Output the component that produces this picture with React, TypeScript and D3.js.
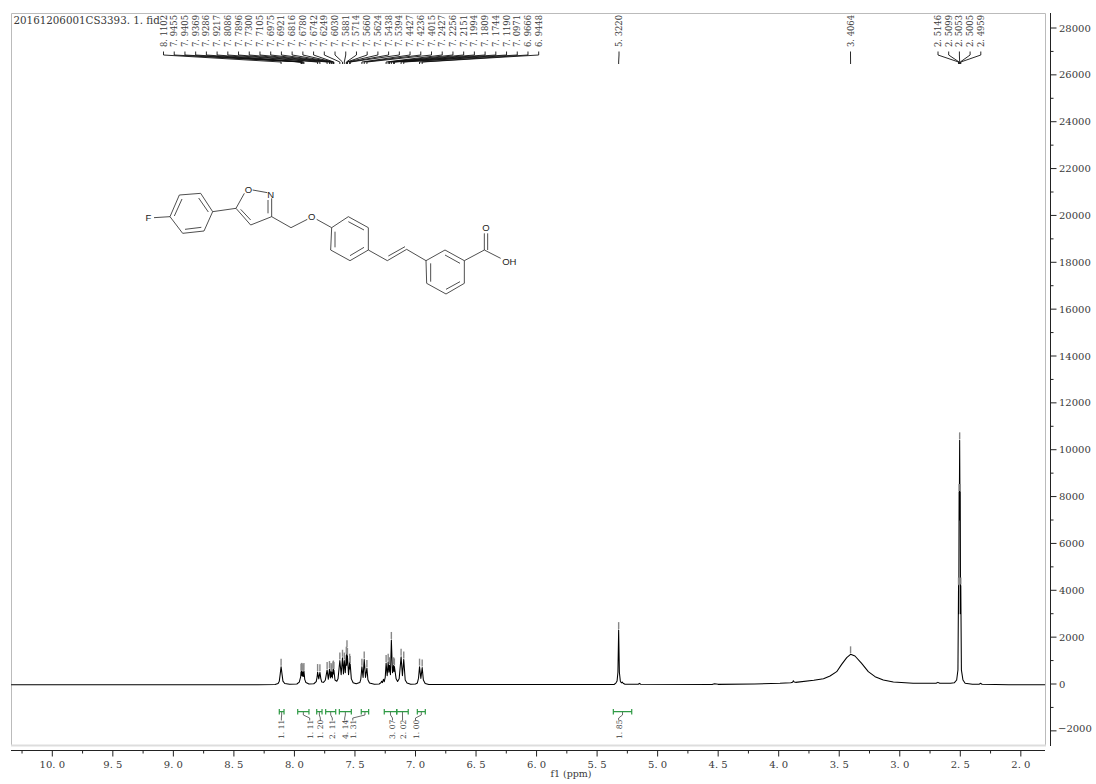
import React from "react";
import * as d3 from "d3";

const titleText = "20161206001CS3393. 1. fid";
const axisTitle = "f1 (ppm)";
const xTickValues = [10, 9.5, 9, 8.5, 8, 7.5, 7, 6.5, 6, 5.5, 5, 4.5, 4, 3.5, 3, 2.5, 2];
const xMinorValues = [10.25, 9.75, 9.25, 8.75, 8.25, 7.75, 7.25, 6.75, 6.25, 5.75, 5.25, 4.75, 4.25, 3.75, 3.25, 2.75, 2.25];
const yTickValues = [28000, 26000, 24000, 22000, 20000, 18000, 16000, 14000, 12000, 10000, 8000, 6000, 4000, 2000, 0, -2000];
const yMinorValues = [27000, 25000, 23000, 21000, 19000, 17000, 15000, 13000, 11000, 9000, 7000, 5000, 3000, 1000, -1000];

// Spectrum: [ppm, intensity]
const spectrum: [number, number][] = [
  [10.34, -30], [9.0, -30], [8.3, -30], [8.16, -25], [8.135, 20], [8.125, 120], [8.118, 400], [8.1102, 740], [8.102, 400], [8.095, 120], [8.08, 20],
  [8.04, -10], [7.98, 0], [7.96, 80], [7.9485, 300], [7.9455, 520], [7.943, 350], [7.9405, 560], [7.939, 400], [7.9369, 540], [7.933, 330], [7.9286, 500], [7.925, 320], [7.9217, 560], [7.915, 200], [7.905, 60],
  [7.88, 0], [7.84, 10], [7.82, 100], [7.8125, 300], [7.8086, 510], [7.799, 220], [7.7896, 500], [7.782, 230], [7.775, 90], [7.76, 70],
  [7.745, 160], [7.73, 600], [7.72, 200], [7.7105, 640], [7.703, 260], [7.6975, 560], [7.6945, 320], [7.6921, 500], [7.687, 260], [7.6816, 620], [7.68, 420], [7.678, 660], [7.676, 460], [7.6742, 600], [7.665, 170], [7.65, 120],
  [7.64, 220], [7.6249, 1000], [7.614, 400], [7.603, 1120], [7.595, 430], [7.5881, 1000], [7.58, 480], [7.5714, 1250], [7.5685, 800], [7.566, 1530], [7.564, 900], [7.5624, 1200], [7.553, 400], [7.5438, 950], [7.5415, 640], [7.5394, 850], [7.53, 220], [7.515, 50],
  [7.49, 10], [7.46, 60], [7.452, 200], [7.4427, 740], [7.433, 280], [7.4236, 1050], [7.413, 280], [7.4015, 680], [7.393, 180], [7.38, 40],
  [7.34, -10], [7.3, 0], [7.285, 60], [7.28, 120], [7.273, 60], [7.265, 200], [7.258, 100], [7.25, 280], [7.2427, 900], [7.234, 350], [7.2256, 950], [7.22, 500], [7.2151, 800], [7.207, 400], [7.1994, 1880], [7.19, 480], [7.1809, 800], [7.178, 520], [7.1744, 750], [7.16, 220], [7.148, 110],
  [7.135, 220], [7.119, 1165], [7.108, 350], [7.0971, 1050], [7.085, 170], [7.07, 40], [7.04, -10], [7.0, 0],
  [6.985, 40], [6.975, 250], [6.9666, 740], [6.9557, 240], [6.9448, 700], [6.935, 170], [6.92, 20], [6.89, -20], [6.7, -25], [6.0, -25], [5.5, -25],
  [5.36, -20], [5.345, 40], [5.335, 130], [5.328, 500], [5.322, 2300], [5.316, 500], [5.308, 120], [5.3, 50], [5.292, 80], [5.285, 30], [5.27, -10],
  [5.16, -10], [5.15, 30], [5.14, -10], [4.55, -20], [4.53, 10], [4.5, -15], [4.2, 0],
  [3.989, 30], [3.9, 55], [3.885, 80], [3.879, 140], [3.872, 85], [3.86, 70], [3.71, 157], [3.63, 228], [3.576, 341], [3.521, 526], [3.48, 839], [3.438, 1124], [3.4064, 1266], [3.37, 1195], [3.315, 882], [3.26, 526], [3.204, 313], [3.136, 171], [3.053, 85], [2.89, 29],
  [2.7, 29], [2.685, 70], [2.67, 29], [2.58, 30], [2.55, 50], [2.53, 170], [2.5195, 600], [2.5146, 4200], [2.5125, 3000], [2.5099, 8200], [2.5085, 7000], [2.5053, 10400], [2.502, 7000], [2.5005, 8200], [2.498, 3000], [2.4959, 4200], [2.491, 600], [2.478, 170], [2.46, 30],
  [2.4, -14], [2.345, -14], [2.335, 30], [2.32, -14], [2.1, -28], [1.8, -28],
];

const peakPpm = [8.1102, 7.9455, 7.9405, 7.9369, 7.9286, 7.9217, 7.8086, 7.7896, 7.73, 7.7105, 7.6975, 7.6921, 7.6816, 7.678, 7.6742, 7.6249, 7.603, 7.5881, 7.5714, 7.566, 7.5624, 7.5438, 7.5394, 7.4427, 7.4236, 7.4015, 7.2427, 7.2256, 7.2151, 7.1994, 7.1809, 7.1744, 7.119, 7.0971, 6.9666, 6.9448];
const peakHeights = [740, 520, 560, 540, 500, 560, 510, 500, 600, 640, 560, 500, 620, 660, 600, 1000, 1120, 1000, 1250, 1530, 1200, 950, 850, 740, 1050, 680, 900, 950, 800, 1880, 800, 750, 1165, 1050, 740, 700];
const soloPeakPpm = [5.322, 3.4064];
const soloPeakHeights = [2300, 1266];
const solventPpm = [2.5146, 2.5099, 2.5053, 2.5005, 2.4959];
const solventHeights = [4200, 8200, 10400, 8200, 4200];

const integralStart = [8.125, 7.973, 7.816, 7.742, 7.629, 7.448, 7.258, 7.155, 6.985, 5.366];
const integralEnd = [8.086, 7.88, 7.772, 7.659, 7.53, 7.387, 7.155, 7.06, 6.919, 5.214];
const integralLabels = ["1.11", "1.11", "1.20", "2.11", "4.14", "1.31", "3.07", "2.02", "1.00", "1.85"];
const integralLabelPpm = [8.108, 7.874, 7.786, 7.687, 7.585, 7.518, 7.19, 7.107, 7.0, 5.322];

// Structure inset: bond ends in crop units, atom labels beside
const bonds: number[][] = [
  [72, 143, 120, 140], [120, 140, 148, 75], [148, 75, 212, 70], [212, 70, 248, 125], [248, 125, 222, 183], [222, 183, 158, 190], [158, 190, 120, 140],
  [133, 138, 156, 87], [206, 84, 235, 126], [214, 172, 165, 178],
  [248, 125, 318, 115], [318, 115, 343, 70], [368, 60, 412, 68], [425, 85, 425, 140], [414, 90, 414, 130], [425, 140, 362, 165], [362, 165, 318, 115], [362, 150, 332, 118],
  [425, 140, 483, 173], [483, 173, 532, 148], [560, 148, 605, 173],
  [605, 173, 655, 140], [655, 140, 715, 173], [715, 173, 715, 240], [715, 240, 660, 272], [660, 272, 602, 240], [602, 240, 605, 173],
  [655, 155, 702, 180], [702, 232, 660, 257], [615, 185, 615, 232],
  [715, 240, 772, 272], [772, 272, 830, 238], [775, 258, 825, 230], [830, 238, 888, 272],
  [888, 272, 945, 240], [945, 240, 1003, 272], [1003, 272, 1003, 340], [1003, 340, 948, 372], [948, 372, 890, 340], [890, 340, 888, 272],
  [945, 255, 990, 280], [990, 335, 948, 358], [902, 335, 902, 280],
  [1003, 272, 1063, 240], [1063, 240, 1063, 190], [1073, 240, 1073, 190], [1063, 240, 1112, 265],
];
const atomNames = ["F", "O", "N", "O", "O", "OH"];
const atomX = [55, 355, 422, 545, 1068, 1138];
const atomY = [143, 58, 72, 138, 172, 275];

const x = d3.scaleLinear().domain([10, 2.5]).range([52.3, 960.3]);
const y = d3.scaleLinear().domain([0, 28000]).range([684, 28]);
const mx = d3.scaleLinear().domain([0, 1200]).range([130, 530]);
const my = d3.scaleLinear().domain([0, 390]).range([170, 300]);

const spaced = (s: string) => s.replace(".", ". ");
const SERIF = "'DejaVu Serif', serif";
const TEXT = "#3a3a3a";

const lineGen = d3.line<[number, number]>().x((d) => x(d[0])).y((d) => y(d[1]));

function PeakLabels({ ppm, heights, first, step }: { ppm: number[]; heights: number[]; first: number; step: number }) {
  return (
    <g>
      {ppm.map((p, i) => {
        const lx = first + i * step;
        const px = x(p);
        return (
          <g key={p}>
            <text transform={`translate(${lx + 3},47) rotate(-90)`} fontFamily={SERIF} fontSize={8.4} fill={TEXT}>
              {spaced(p.toFixed(4))}
            </text>
            <path d={`M${lx},51.5V55L${px},62V64`} fill="none" stroke="#111" strokeWidth={0.9} />
            <line x1={px} x2={px} y1={y(heights[i]) - 8} y2={y(heights[i]) - 1} stroke="#888" strokeWidth={1.4} />
          </g>
        );
      })}
    </g>
  );
}

export default function App() {
  return (
    <svg width={1096} height={784} style={{ position: "absolute", left: 0, top: 0, display: "block", background: "#fff" }}>
      <path d="M11.5,746V13.5H1045.5V746" fill="none" stroke="#bbb" strokeWidth={1} />
      <line x1={11} x2={1046} y1={745.5} y2={745.5} stroke="#ddd" strokeWidth={2} />

      <text x={13.5} y={23.5} fontFamily={SERIF} fontSize={10.3} fill={TEXT}>{titleText}</text>

      {/* x axis */}
      <line x1={11} x2={1045} y1={750.5} y2={750.5} stroke="#222" />
      {xTickValues.map((v) => (
        <g key={v}>
          <line x1={x(v)} x2={x(v)} y1={750.5} y2={756.5} stroke="#222" />
          <text x={x(v)} y={768} textAnchor="middle" fontFamily={SERIF} fontSize={10} fill={TEXT}>{spaced(v.toFixed(1))}</text>
        </g>
      ))}
      {xMinorValues.map((v) => (
        <line key={v} x1={x(v)} x2={x(v)} y1={750.5} y2={753.5} stroke="#222" />
      ))}
      <text x={571} y={777} textAnchor="middle" fontFamily={SERIF} fontSize={9.5} fill={TEXT}>{axisTitle}</text>

      {/* y axis */}
      <line x1={1050.5} x2={1050.5} y1={13} y2={746} stroke="#222" />
      {yTickValues.map((v) => (
        <g key={v}>
          <line x1={1050.5} x2={1056.5} y1={y(v)} y2={y(v)} stroke="#222" />
          <text x={v < 0 ? 1058 : 1059} y={y(v) + (v < 0 ? 1 : 3.5)} fontFamily={SERIF} fontSize={10} fill={TEXT}>{v < 0 ? `\u2212${-v}` : v}</text>
        </g>
      ))}
      {yMinorValues.map((v) => (
        <line key={v} x1={1050.5} x2={1053.5} y1={y(v)} y2={y(v)} stroke="#222" />
      ))}

      {/* spectrum */}
      <path d={lineGen(spectrum) ?? ""} fill="none" stroke="#000" strokeWidth={1.05} strokeLinejoin="round" />

      {/* peak labels */}
      <PeakLabels ppm={peakPpm} heights={peakHeights} first={163.5} step={10.72} />
      <PeakLabels ppm={soloPeakPpm.slice(0, 1)} heights={soloPeakHeights.slice(0, 1)} first={619} step={0} />
      <PeakLabels ppm={soloPeakPpm.slice(1)} heights={soloPeakHeights.slice(1)} first={850.5} step={0} />
      <PeakLabels ppm={solventPpm} heights={solventHeights} first={938} step={10.7} />

      {/* integrals */}
      {integralLabels.map((t, i) => {
        const a = x(integralStart[i]);
        const b = x(integralEnd[i]);
        const c = (a + b) / 2;
        const lx = x(integralLabelPpm[i]);
        return (
          <g key={i}>
            <path d={`M${c},712V715L${lx},718V720.5`} fill="none" stroke="#444" strokeWidth={0.8} />
            <path d={`M${a},709V714.5M${a},711.7H${b}M${b},709V714.5`} fill="none" stroke="#2f9a45" strokeWidth={1.2} />
            <text transform={`translate(${lx + 3},739) rotate(-90)`} fontFamily={SERIF} fontSize={7.6} fill={TEXT}>{spaced(t)}</text>
          </g>
        );
      })}

      {/* structure */}
      <g stroke="#222" strokeWidth={0.8}>
        {bonds.map((b, i) => (
          <line key={i} x1={mx(b[0])} y1={my(b[1])} x2={mx(b[2])} y2={my(b[3])} />
        ))}
      </g>
      {atomNames.map((n, i) => (
        <text key={i} x={mx(atomX[i])} y={my(atomY[i]) + 3.5} textAnchor="middle" fontFamily="'Liberation Sans', sans-serif" fontSize={9.5} fill="#222">{n}</text>
      ))}
    </svg>
  );
}
